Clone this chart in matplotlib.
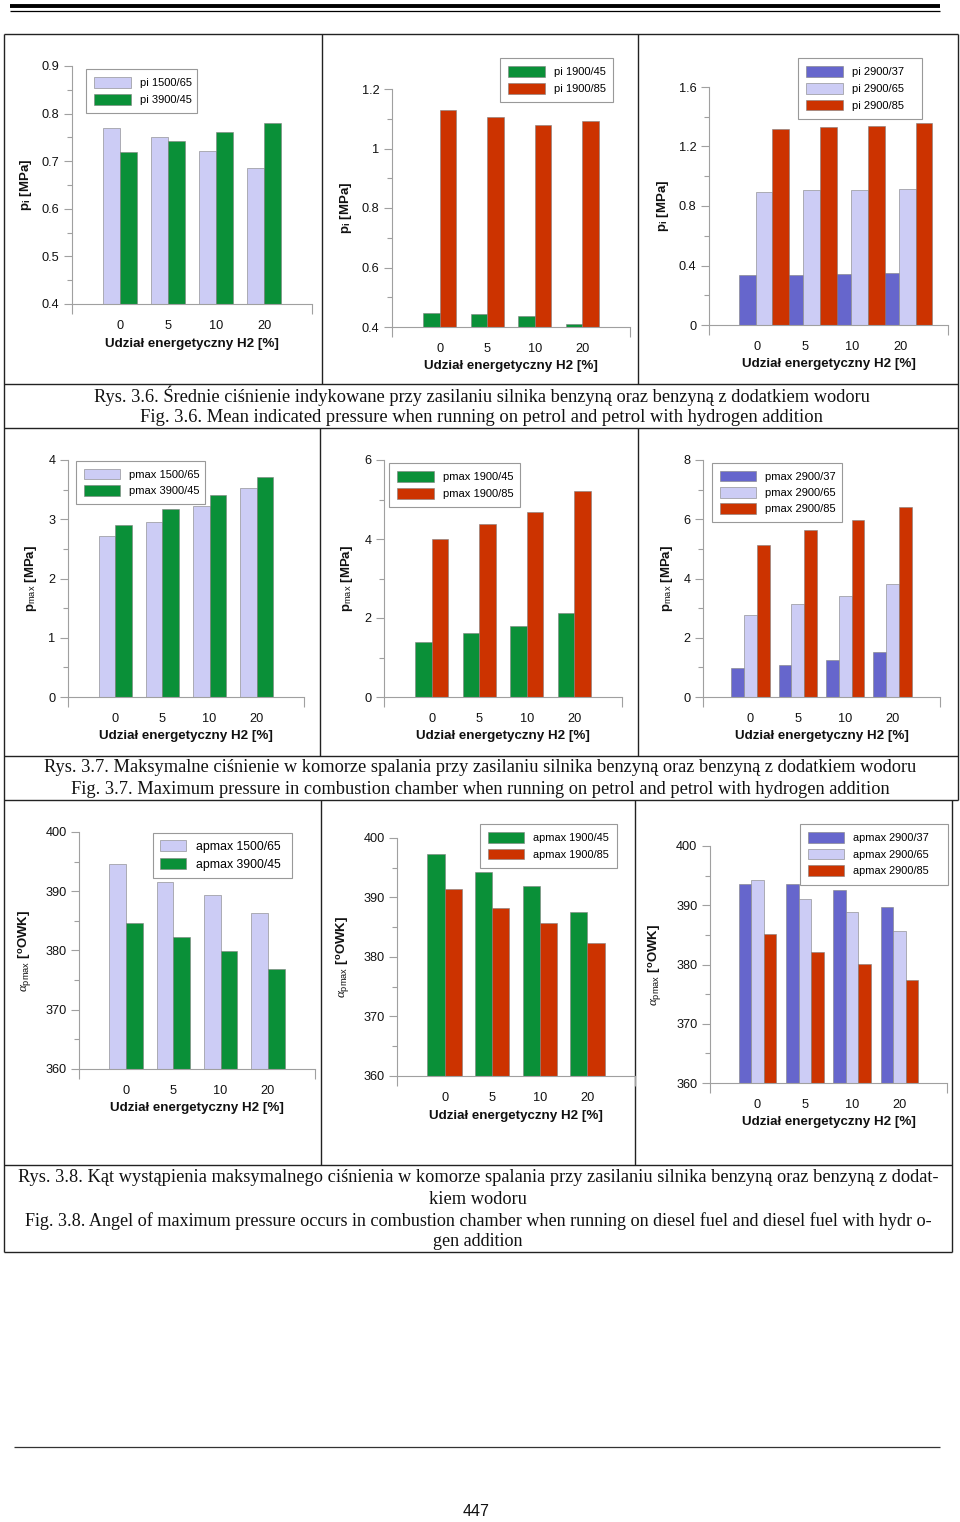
import matplotlib
matplotlib.use('Agg')
import matplotlib.pyplot as plt
from matplotlib.ticker import MultipleLocator, FuncFormatter
from matplotlib.lines import Line2D

plt.rcParams['font.family'] = ['Liberation Sans', 'DejaVu Sans']
plt.rcParams['mathtext.fontset'] = 'custom'
plt.rcParams['mathtext.rm'] = 'Liberation Sans'
plt.rcParams['mathtext.bf'] = 'Liberation Sans:bold'
plt.rcParams['mathtext.it'] = 'Liberation Serif:italic'

# ---- data ----
categories = ['0', '5', '10', '20']

pi_1500_65 = [0.770, 0.750, 0.721, 0.686]
pi_3900_45 = [0.719, 0.742, 0.761, 0.780]
pi_1900_45 = [0.447, 0.443, 0.436, 0.411]
pi_1900_85 = [1.130, 1.106, 1.078, 1.094]
pi_2900_37 = [0.337, 0.337, 0.341, 0.352]
pi_2900_65 = [0.893, 0.907, 0.907, 0.911]
pi_2900_85 = [1.320, 1.333, 1.340, 1.360]

pmax_1500_65 = [2.725, 2.950, 3.230, 3.520]
pmax_3900_45 = [2.910, 3.175, 3.415, 3.720]
pmax_1900_45 = [1.380, 1.610, 1.790, 2.130]
pmax_1900_85 = [4.010, 4.390, 4.690, 5.215]
pmax_2900_37 = [0.990, 1.090, 1.235, 1.530]
pmax_2900_65 = [2.765, 3.135, 3.415, 3.810]
pmax_2900_85 = [5.125, 5.630, 5.980, 6.415]

apmax_1500_65 = [394.6, 391.5, 389.3, 386.4]
apmax_3900_45 = [384.7, 382.3, 379.9, 376.9]
apmax_1900_45 = [397.3, 394.3, 391.9, 387.5]
apmax_1900_85 = [391.5, 388.3, 385.7, 382.4]
apmax_2900_37 = [393.6, 393.6, 392.6, 389.7]
apmax_2900_65 = [394.2, 391.1, 388.8, 385.6]
apmax_2900_85 = [385.1, 382.1, 380.1, 377.4]

xlabel = 'Udział energetyczny H2 [%]'
captions = [
    ['Rys. 3.6. Średnie ciśnienie indykowane przy zasilaniu silnika benzyną oraz benzyną z dodatkiem wodoru',
     'Fig. 3.6. Mean indicated pressure when running on petrol and petrol with hydrogen addition'],
    ['Rys. 3.7. Maksymalne ciśnienie w komorze spalania przy zasilaniu silnika benzyną oraz benzyną z dodatkiem wodoru',
     'Fig. 3.7. Maximum pressure in combustion chamber when running on petrol and petrol with hydrogen addition'],
    ['Rys. 3.8. Kąt wystąpienia maksymalnego ciśnienia w komorze spalania przy zasilaniu silnika benzyną oraz benzyną z dodat-',
     'kiem wodoru',
     'Fig. 3.8. Angel of maximum pressure occurs in combustion chamber when running on diesel fuel and diesel fuel with hydr o-',
     'gen addition'],
]

LAV = '#ccccf5'
GREEN = '#0a9038'
RED = '#cc3300'
BLUE = '#6666cc'

PI_LAB = r'p$_\mathbf{i}$ [MPa]'
PMAX_LAB = r'p$_\mathrm{max}$ [MPa]'
AP_LAB = r'$\alpha_\mathrm{pmax}$ [$^\mathbf{o}$OWK]'

W, H = 960, 1522

# rect = (left, top, right, bottom) in page pixels
# leg = (x, y, width, fontsize, handlelength, handleheight, labelspacing, borderpad)
panels = [
    dict(rect=(72, 66, 312, 304), series=[('pi 1500/65', pi_1500_65, LAV), ('pi 3900/45', pi_3900_45, GREEN)],
         ylim=(0.4, 0.9), major=0.1, minor=0.05, ylabel=PI_LAB, ylx=26,
         leg=(86, 69, 111, 8, 3.3, 1.1, 0.5, 0.75), bw=0.35, shift=0),
    dict(rect=(392, 89, 630, 327), series=[('pi 1900/45', pi_1900_45, GREEN), ('pi 1900/85', pi_1900_85, RED)],
         ylim=(0.4, 1.2), major=0.2, minor=0.1, ylabel=PI_LAB, ylx=346,
         leg=(500, 58, 113, 8, 3.3, 1.1, 0.5, 0.75), bw=0.35, shift=0),
    dict(rect=(709, 87, 948, 325), series=[('pi 2900/37', pi_2900_37, BLUE), ('pi 2900/65', pi_2900_65, LAV),
                                           ('pi 2900/85', pi_2900_85, RED)],
         ylim=(0, 1.6), major=0.4, minor=0.2, ylabel=PI_LAB, ylx=663,
         leg=(798, 58, 124, 8, 3.3, 1.1, 0.5, 0.75), bw=0.35, shift=0.15),
    dict(rect=(68, 460, 304, 697), series=[('pmax 1500/65', pmax_1500_65, LAV), ('pmax 3900/45', pmax_3900_45, GREEN)],
         ylim=(0, 4), major=1, minor=0.5, ylabel=PMAX_LAB, ylx=31,
         leg=(76, 461, 129, 8, 3.3, 1.1, 0.45, 0.7), bw=0.35, shift=0),
    dict(rect=(384, 460, 622, 697), series=[('pmax 1900/45', pmax_1900_45, GREEN), ('pmax 1900/85', pmax_1900_85, RED)],
         ylim=(0, 6), major=2, minor=1, ylabel=PMAX_LAB, ylx=347,
         leg=(389, 463, 131, 8, 3.3, 1.1, 0.5, 0.75), bw=0.35, shift=0),
    dict(rect=(703, 460, 940, 697), series=[('pmax 2900/37', pmax_2900_37, BLUE), ('pmax 2900/65', pmax_2900_65, LAV),
                                            ('pmax 2900/85', pmax_2900_85, RED)],
         ylim=(0, 8), major=2, minor=1, ylabel=PMAX_LAB, ylx=667,
         leg=(712, 463, 130, 8, 3.3, 1.1, 0.45, 0.7), bw=0.27, shift=0),
    dict(rect=(79, 832, 315, 1069), series=[('apmax 1500/65', apmax_1500_65, LAV), ('apmax 3900/45', apmax_3900_45, GREEN)],
         ylim=(360, 400), major=10, minor=5, ylabel=AP_LAB, ylx=26,
         leg=(153, 833, 139, 8.8, 2.1, 1.0, 0.4, 0.6), bw=0.355, shift=0),
    dict(rect=(397, 838, 635, 1076), series=[('apmax 1900/45', apmax_1900_45, GREEN), ('apmax 1900/85', apmax_1900_85, RED)],
         ylim=(360, 400), major=10, minor=5, ylabel=AP_LAB, ylx=344,
         leg=(480, 824, 137, 7.9, 3.3, 1.12, 0.5, 0.75), bw=0.36, shift=0),
    dict(rect=(710, 846, 947, 1083), series=[('apmax 2900/37', apmax_2900_37, BLUE), ('apmax 2900/65', apmax_2900_65, LAV),
                                             ('apmax 2900/85', apmax_2900_85, RED)],
         ylim=(360, 400), major=10, minor=5, ylabel=AP_LAB, ylx=656,
         leg=(800, 824, 148, 7.9, 3.3, 1.12, 0.5, 0.75), bw=0.265, shift=0),
]

fig = plt.figure(figsize=(W / 100, H / 100), dpi=100)

# page overlay in pixel coordinates
page = fig.add_axes([0, 0, 1, 1])
page.set_xlim(0, W)
page.set_ylim(H, 0)
page.axis('off')


def hline(y, x0, x1, lw=1.0, color='#222222'):
    page.add_line(Line2D([x0, x1], [y, y], lw=lw, color=color, solid_capstyle='butt'))


def vline(x, y0, y1, lw=1.0, color='#222222'):
    page.add_line(Line2D([x, x], [y0, y1], lw=lw, color=color, solid_capstyle='butt'))


# top double rule and bottom rule
hline(6, 10, 940, lw=2.8, color='black')
hline(10.5, 10, 940, lw=0.9, color='black')
hline(1447, 14, 940, lw=0.9, color='#333333')

# table grid
for y in (34, 384, 428, 756, 800):
    hline(y, 4, 958)
for y in (1165, 1252):
    hline(y, 4, 952)
vline(4, 34, 1252)
vline(958, 34, 800)
vline(952, 800, 1252)
for x in (322, 638):
    vline(x, 34, 384)
for x in (320, 638):
    vline(x, 428, 756)
for x in (321, 635):
    vline(x, 800, 1165)

x_cat = [1, 2, 3, 4]

for p in panels:
    x0, y0, x1, y1 = p['rect']
    axw, axh = x1 - x0, y1 - y0
    ax = fig.add_axes([x0 / W, 1 - y1 / H, axw / W, axh / H])
    ax.set_facecolor('none')
    n = len(p['series'])
    for i, (lab, vals, col) in enumerate(p['series']):
        xs = [c + p['shift'] + (i - (n - 1) / 2) * p['bw'] for c in x_cat]
        ax.bar(xs, vals, width=p['bw'], color=col, edgecolor='#808080', linewidth=0.4, label=lab)
    ax.set_xlim(0, 5)
    ax.set_ylim(*p['ylim'])
    for s in ('top', 'right'):
        ax.spines[s].set_visible(False)
    for s in ('left', 'bottom'):
        ax.spines[s].set_color('#a0a0a0')
        ax.spines[s].set_linewidth(0.8)
    ax.yaxis.set_major_locator(MultipleLocator(p['major']))
    ax.yaxis.set_minor_locator(MultipleLocator(p['minor']))
    ax.yaxis.set_major_formatter(FuncFormatter(lambda v, pos: f'{v:g}'))
    ax.tick_params(axis='y', which='major', length=6, width=0.8, color='#a0a0a0', pad=3,
                   labelsize=9.2, labelcolor='#111111')
    ax.tick_params(axis='y', which='minor', length=3.5, width=0.8, color='#a0a0a0')
    ax.set_xticks(x_cat)
    ax.set_xticklabels(categories)
    ax.set_xticks([0, 5], minor=True)
    ax.tick_params(axis='x', which='major', length=0, pad=11.5, labelsize=9.2, labelcolor='#111111')
    ax.tick_params(axis='x', which='minor', length=7, width=0.8, color='#a0a0a0')
    ax.set_xlabel(xlabel, fontsize=9.6, fontweight='bold', color='#111111')
    ax.xaxis.label.set_va('center')
    ax.xaxis.set_label_coords(0.5, -39.5 / axh)
    ax.set_ylabel(p['ylabel'], fontsize=9.5, fontweight='bold', color='#111111')
    ax.yaxis.label.set_va('center')
    ax.yaxis.set_label_coords((p['ylx'] - x0) / axw, 0.5)

    lx, ly, lw_, lfs, hl, hh, ls, bp = p['leg']
    leg = ax.legend(loc='upper left', bbox_to_anchor=(lx / W, 1 - ly / H, lw_ / W, 0),
                    bbox_transform=fig.transFigure, mode='expand', borderaxespad=0,
                    fontsize=lfs, handlelength=hl, handleheight=hh, handletextpad=0.8,
                    labelspacing=ls, borderpad=bp, fancybox=False, framealpha=1,
                    edgecolor='#999999')
    leg.get_frame().set_linewidth(0.8)

# captions, each line fitted to its width on the page
renderer = fig.canvas.get_renderer()
cap_lines = [
    (captions[0][0], 482, 396, 771), (captions[0][1], 481, 417, 681),
    (captions[1][0], 480, 768, 867), (captions[1][1], 480, 789, 816),
    (captions[2][0], 478, 1178, 915), (captions[2][1], 478, 1199, None),
    (captions[2][2], 478, 1221, 909), (captions[2][3], 478, 1242, None),
]
last_fs = 12
for txt, cx, cy, width in cap_lines:
    t = page.text(cx, cy, txt, ha='center', va='center', fontsize=12,
                  family=['Liberation Serif', 'DejaVu Serif'], color='#111111')
    if width is not None:
        bb = t.get_window_extent(renderer)
        last_fs = 12 * width / bb.width
    t.set_fontsize(last_fs)

page.text(476, 1512, '447', ha='center', va='center', fontsize=11.5, color='#111111')

fig.savefig('out.png', dpi=100)
